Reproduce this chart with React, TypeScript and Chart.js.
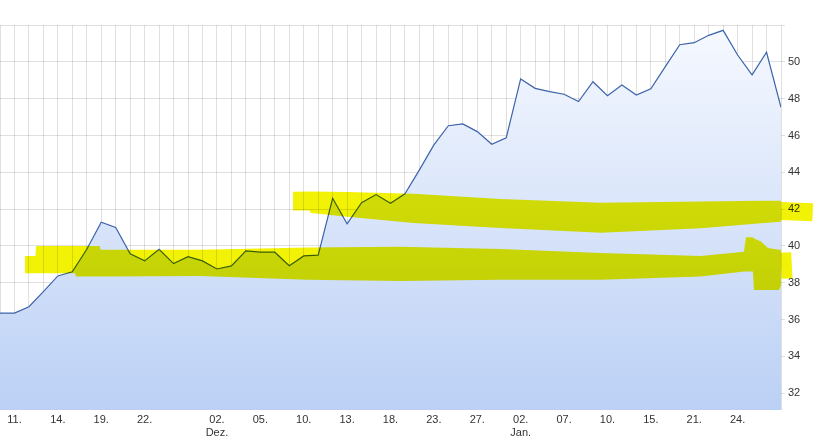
import React, { useEffect, useRef } from 'react';
import { Chart, registerables } from 'chart.js';

// Trading-day tick labels (one per data point)
const xTickLabels: (string | string[])[] = [
  '', '11.', '', '', '14.', '', '', '19.', '', '', '22.', '', '', '', '', ['02.', 'Dez.'],
  '', '', '05.', '', '', '10.', '', '', '13.', '', '', '18.', '', '', '23.', '', '', '27.',
  '', '', ['02.', 'Jan.'], '', '', '07.', '', '', '10.', '', '', '15.', '', '', '21.', '', '', '24.',
  '', '', '',
];

// Closing prices
const closePrices = [
  36.35, 36.35, 36.7, 37.52, 38.37, 38.6, 39.82, 41.29, 41.0, 39.57,
  39.19, 39.82, 39.04, 39.42, 39.19, 38.75, 38.92, 39.73, 39.66, 39.66,
  38.93, 39.46, 39.5, 42.59, 41.2, 42.35, 42.79, 42.32, 42.83, 44.13,
  45.49, 46.53, 46.63, 46.21, 45.52, 45.87, 49.07, 48.56, 48.38, 48.24,
  47.84, 48.92, 48.16, 48.74, 48.2, 48.54, 49.74, 50.93, 51.04, 51.44,
  51.71, 50.37, 49.29, 50.52, 47.53,
];

const yTicks = [32, 34, 36, 38, 40, 42, 44, 46, 48, 50];

// Highlighter marks (resistance ~42, support ~39), in index / price units
const upperBandX = [20.26, 21.4, 21.5, 24.02, 28.59, 34.61, 41.54, 48.46, 52.61, 54.69, 56.19];
const upperBandTop = [42.95, 42.96, 42.96, 42.93, 42.83, 42.55, 42.34, 42.41, 42.46, 42.45, 42.28];
const upperBandBottom = [41.92, 41.92, 41.79, 41.58, 41.25, 40.98, 40.71, 40.96, 41.23, 41.36, 41.38];

const lowerBandX = [1.73, 2.45, 2.5, 5.19, 5.25, 6.9, 6.95, 13.85, 21.25, 27.69, 34.61, 41.54, 48.46, 51.44, 51.58, 52.06, 52.13, 52.61, 53.1, 53.86, 54.07, 54.69, 54.9];
const lowerBandTop = [39.46, 39.46, 40.0, 40.0, 40.0, 40.0, 39.79, 39.79, 39.91, 39.95, 39.84, 39.62, 39.46, 39.69, 40.47, 40.47, 40.4, 40.24, 39.89, 39.79, 39.79, 39.62, 39.2];
const lowerBandBottom = [38.52, 38.52, 38.52, 38.52, 38.34, 38.34, 38.34, 38.37, 38.16, 38.1, 38.16, 38.16, 38.34, 38.61, 38.61, 38.61, 37.61, 37.61, 37.61, 37.61, 37.99, 38.3, 38.7];

// Part of the highlighter strokes that runs over the price axis
const upperStrokeX = [54, 56.19];
const upperStrokeY = [41.9, 41.83];
const lowerStrokeX = [54, 54.75];
const lowerStrokeY = [38.92, 38.95];

const bandMultiplyPlugin = {
  id: 'bandMultiply',
  beforeDatasetDraw(chart: any, args: any) {
    const ds = chart.data.datasets[args.index];
    if (ds && ds.highlighter) {
      chart.ctx.save();
      chart.ctx.globalCompositeOperation = 'multiply';
    }
  },
  afterDatasetDraw(chart: any, args: any) {
    const ds = chart.data.datasets[args.index];
    if (ds && ds.highlighter) chart.ctx.restore();
  },
};

Chart.register(bandMultiplyPlugin as any, ...registerables);

const FONT = { family: '"Liberation Sans", Arial, sans-serif', size: 11 };
const GRID = 'rgba(0,0,0,0.12)';
const YELLOW = 'rgb(242,242,6)';

function bandEdge(xs: number[], ys: number[], fill: any) {
  return {
    data: xs.map((x, i) => ({ x, y: ys[i] })),
    borderColor: 'transparent',
    borderWidth: 0,
    pointRadius: 0,
    backgroundColor: YELLOW,
    fill,
    tension: 0,
    order: 0,
    highlighter: fill !== false,
  };
}

function stroke(xs: number[], ys: number[], width: number) {
  return {
    data: xs.map((x, i) => ({ x, y: ys[i] })),
    borderColor: YELLOW,
    borderWidth: width,
    borderCapStyle: 'butt',
    pointRadius: 0,
    fill: false,
    tension: 0,
    order: 0,
    clip: { left: 0, top: 0, right: 40, bottom: 0 },
    highlighter: true,
  };
}

export default function App() {
  const ref = useRef<HTMLCanvasElement>(null);

  useEffect(() => {
    const canvas = ref.current;
    if (!canvas) return;
    const chart = new Chart(canvas, {
      type: 'line',
      data: {
        datasets: [
          {
            data: closePrices.map((v, i) => ({ x: i, y: v })),
            borderColor: '#3c63ab',
            borderWidth: 1.2,
            pointRadius: 0,
            tension: 0,
            fill: 'start',
            order: 10,
            backgroundColor: (ctx: any) => {
              const area = ctx.chart.chartArea;
              if (!area) return 'rgba(200,215,245,1)';
              const g = ctx.chart.ctx.createLinearGradient(0, area.top, 0, area.bottom);
              g.addColorStop(0, '#f6f9ff');
              g.addColorStop(1, '#bbd0f5');
              return g;
            },
          } as any,
          bandEdge(upperBandX, upperBandTop, false),
          bandEdge(upperBandX, upperBandBottom, '-1'),
          bandEdge(lowerBandX, lowerBandTop, false),
          bandEdge(lowerBandX, lowerBandBottom, '-1'),
          stroke(upperStrokeX, upperStrokeY, 18),
          stroke(lowerStrokeX, lowerStrokeY, 26),
        ],
      },
      options: {
        responsive: true,
        maintainAspectRatio: false,
        animation: false,
        layout: { padding: { top: 25, left: 0, right: 0, bottom: 0 } },
        plugins: { legend: { display: false }, tooltip: { enabled: false } },
        scales: {
          x: {
            type: 'linear',
            min: 0,
            max: closePrices.length - 1,
            grid: { color: GRID, drawTicks: true, tickLength: 3, tickColor: 'transparent' },
            border: { display: false },
            afterBuildTicks: (s: any) => {
              s.ticks = closePrices.map((_, i) => ({ value: i }));
            },
            ticks: {
              autoSkip: false,
              maxRotation: 0,
              minRotation: 0,
              padding: 0,
              color: '#333',
              font: FONT,
              callback: (v: any) => {
                const l = xTickLabels[Math.round(Number(v))];
                return l === undefined ? '' : l;
              },
            },
            afterFit: (s: any) => { s.height = 37; },
          },
          y: {
            type: 'linear',
            position: 'right',
            min: 31.09,
            max: 52,
            grid: { color: GRID, tickLength: 4 },
            border: { display: false },
            ticks: {
              stepSize: 2,
              includeBounds: false,
              padding: 3,
              color: '#333',
              font: FONT,
              callback: (v: any) => (yTicks.includes(Number(v)) ? String(v) : ''),
            },
            afterFit: (s: any) => { s.width = 40; },
          },
        },
      } as any,
    });
    return () => chart.destroy();
  }, []);

  return (
    <div style={{ position: 'absolute', left: 0, top: 0, width: 821, height: 447 }}>
      <canvas ref={ref} />
    </div>
  );
}
